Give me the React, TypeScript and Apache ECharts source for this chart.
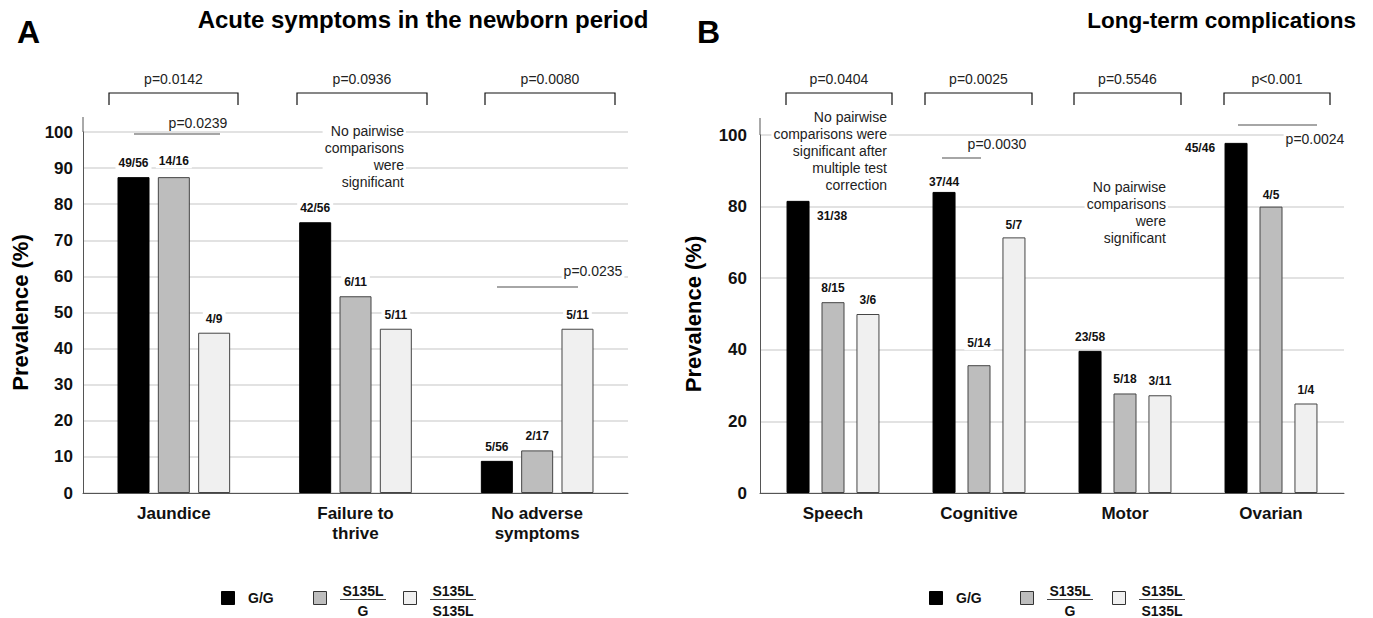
import React, { useEffect, useRef } from 'react';
import * as echarts from 'echarts';

const FONT = '"Liberation Sans", Arial, Helvetica, sans-serif';

// ---------- data ----------
const groupNames = ['G/G', 'S135L/G', 'S135L/S135L'];

const acuteCategories = ['Jaundice', 'Failure to\nthrive', 'No adverse\nsymptoms'];
const acuteGG = [87.5, 75.0, 8.9];
const acuteSG = [87.5, 54.5, 11.8];
const acuteSS = [44.4, 45.5, 45.5];
const acuteGGLabels = ['49/56', '42/56', '5/56'];
const acuteSGLabels = ['14/16', '6/11', '2/17'];
const acuteSSLabels = ['4/9', '5/11', '5/11'];
const acuteOverallP = ['p=0.0142', 'p=0.0936', 'p=0.0080'];

const longCategories = ['Speech', 'Cognitive', 'Motor', 'Ovarian'];
const longGG = [81.6, 84.1, 39.7, 97.8];
const longSG = [53.3, 35.7, 27.8, 80.0];
const longSS = [50.0, 71.4, 27.3, 25.0];
const longGGLabels = ['31/38', '37/44', '23/58', '45/46'];
const longSGLabels = ['8/15', '5/14', '5/18', '4/5'];
const longSSLabels = ['3/6', '5/7', '3/11', '1/4'];
const longOverallP = ['p=0.0404', 'p=0.0025', 'p=0.5546', 'p<0.001'];

const acutePairP = ['p=0.0239', 'p=0.0235'];
const longPairP = ['p=0.0030', 'p=0.0024'];
const noteAcute = 'No pairwise\ncomparisons\nwere\nsignificant';
const noteSpeech = 'No pairwise\ncomparisons were\nsignificant after\nmultiple test\ncorrection';
const noteMotor = 'No pairwise\ncomparisons\nwere\nsignificant';

// ---------- styles ----------
const barColors = ['#000000', '#bdbdbd', '#f0f0f0'];
const barBorders = ['#000000', '#454545', '#454545'];

// label offsets (style only)
const longOffsets: number[][][] = [
  [[34, 29], [0, 4], [0, 0], [-36, 19]],
  [[0, 0], [0, -8], [0, 0], [0, 2]],
  [[0, 0], [0, 2], [0, 0], [0, 0]],
];
const acuteOffsets: number[][][] = [
  [[0, 0], [0, 0], [0, 0]],
  [[0, -2], [0, 0], [0, 0]],
  [[0, 0], [0, 0], [0, 0]],
];

function barSeries(
  idx: number,
  gi: number,
  values: number[],
  labels: string[],
  offsets: number[][],
  barWidth: number,
  barGap: string
) {
  return {
    type: 'bar',
    name: groupNames[gi],
    xAxisIndex: idx,
    yAxisIndex: idx,
    barWidth,
    barGap,
    silent: true,
    data: values.map((v, i) => ({ value: v, label: { offset: offsets[i] } })),
    itemStyle: { color: barColors[gi], borderColor: barBorders[gi], borderWidth: 1 },
    label: {
      show: true,
      position: 'top',
      distance: 7,
      formatter: (p: any) => labels[p.dataIndex],
      fontFamily: FONT,
      fontWeight: 'bold',
      fontSize: 12,
      color: '#111',
      backgroundColor: '#ffffff',
      padding: [1, 3],
    },
  };
}

function txt(text: string, x: number, y: number, opts: any = {}) {
  const style: any = {
    text,
    fill: opts.fill || '#222',
    fontFamily: FONT,
    fontSize: opts.size || 13,
    fontWeight: opts.weight || 'normal',
    textAlign: opts.align || 'center',
    textVerticalAlign: opts.valign || 'middle',
  };
  if (opts.lineHeight) style.lineHeight = opts.lineHeight;
  if (opts.bg) {
    style.backgroundColor = opts.bg;
    style.padding = opts.padding || [0, 2];
  }
  return { type: 'text', x, y, silent: true, z: opts.z || 10, style };
}

function ln(x1: number, y1: number, x2: number, y2: number, stroke = '#888', w = 1.5) {
  return {
    type: 'line',
    silent: true,
    z: 9,
    shape: { x1, y1, x2, y2 },
    style: { stroke, lineWidth: w },
  };
}

function bracket(x1: number, x2: number) {
  return {
    type: 'polyline',
    silent: true,
    shape: { points: [[x1, 105], [x1, 93], [x2, 93], [x2, 105]] },
    style: { stroke: '#111', lineWidth: 1.2, fill: null },
  };
}

function legend(xs: number[]) {
  const els: any[] = [];
  groupNames.forEach((name, gi) => {
    const sx = xs[gi];
    els.push({
      type: 'rect',
      silent: true,
      shape: { x: sx + 0.5, y: 591.5, width: 13, height: 13 },
      style: { fill: barColors[gi], stroke: gi === 0 ? '#000' : '#333', lineWidth: 1 },
    });
    const parts = name.split('/');
    if (gi === 0) {
      els.push(txt(name, sx + 27, 598, { align: 'left', weight: 'bold', size: 14, fill: '#111' }));
    } else {
      const cx = sx + 50;
      els.push(txt(parts[0], cx, 591, { weight: 'bold', size: 14, fill: '#111' }));
      els.push(ln(cx - 23, 599.5, cx + 23, 599.5, '#444', 1));
      els.push(txt(parts[1], cx, 611, { weight: 'bold', size: 14, fill: '#111' }));
    }
  });
  return els;
}

export default function App() {
  const ref = useRef<HTMLDivElement>(null);

  useEffect(() => {
    document.body.style.margin = '0';
    if (!ref.current) return;
    const chart = echarts.init(ref.current, undefined, { renderer: 'svg' });

    const xAxisBase = {
      type: 'category',
      axisTick: { show: false },
      axisLine: { show: true, lineStyle: { color: '#555', width: 1 } },
      axisLabel: {
        fontFamily: FONT,
        fontWeight: 'bold',
        fontSize: 17,
        color: '#111',
        margin: 10,
        lineHeight: 20,
        interval: 0,
      },
    };
    const yAxisBase = {
      type: 'value',
      min: 0,
      max: 100,
      axisLine: { show: true, lineStyle: { color: '#555', width: 1 } },
      axisTick: { show: false },
      splitLine: { show: true, lineStyle: { color: '#e2e2e2', width: 2 } },
      axisLabel: { fontFamily: FONT, fontWeight: 'bold', fontSize: 17, color: '#111' },
    };

    const graphics: any[] = [
      txt('A', 17, 32, { align: 'left', weight: 'bold', size: 32, fill: '#000' }),
      txt('B', 697, 32, { align: 'left', weight: 'bold', size: 32, fill: '#000' }),
      txt('Acute symptoms in the newborn period', 423, 19, { weight: 'bold', size: 24, fill: '#000' }),
      txt('Long-term complications', 1356, 20, { align: 'right', weight: 'bold', size: 22.5, fill: '#000' }),
      // axis line extensions
      ln(83, 117, 83, 132, '#555', 1),
      ln(760, 118, 760, 135, '#555', 1),
    ];
    const acuteBr = [[109, 238], [297, 427], [485, 615]];
    acuteBr.forEach((b, i) => {
      graphics.push(bracket(b[0], b[1]));
      graphics.push(txt(acuteOverallP[i], (b[0] + b[1]) / 2, 79, { size: 14 }));
    });
    const longBr = [[786, 892], [925, 1032], [1074, 1181], [1224, 1330]];
    longBr.forEach((b, i) => {
      graphics.push(bracket(b[0], b[1]));
      graphics.push(txt(longOverallP[i], (b[0] + b[1]) / 2, 79, { size: 14 }));
    });
    // pairwise annotations
    graphics.push(ln(134, 134, 220, 134));
    graphics.push(txt(acutePairP[0], 198, 123, { size: 14, bg: '#fff' }));
    graphics.push(ln(497, 287, 578, 287));
    graphics.push(txt(acutePairP[1], 593, 271, { size: 14, bg: '#fff' }));
    graphics.push(txt(noteAcute, 406, 156, { align: 'right', size: 14, lineHeight: 17, fill: '#222', bg: '#fff' }));

    graphics.push(ln(942, 158, 981, 158));
    graphics.push(txt(longPairP[0], 997, 144, { size: 14, bg: '#fff' }));
    graphics.push(ln(1238, 125, 1317, 125));
    graphics.push(txt(longPairP[1], 1315, 139, { size: 14, bg: '#fff' }));
    graphics.push(txt(noteSpeech, 889, 151, { align: 'right', size: 14, lineHeight: 17, fill: '#222', bg: '#fff' }));
    graphics.push(txt(noteMotor, 1168, 212, { align: 'right', size: 14, lineHeight: 17, fill: '#222', bg: '#fff' }));

    graphics.push(...legend([221, 313, 403]));
    graphics.push(...legend([929, 1020, 1112]));

    const option: any = {
      animation: false,
      backgroundColor: '#ffffff',
      textStyle: { fontFamily: FONT },
      grid: [
        { left: 83, top: 132, width: 545, height: 361 },
        { left: 760, top: 135, width: 584, height: 358 },
      ],
      xAxis: [
        { ...xAxisBase, gridIndex: 0, data: acuteCategories },
        { ...xAxisBase, gridIndex: 1, data: longCategories },
      ],
      yAxis: [
        {
          ...yAxisBase,
          gridIndex: 0,
          interval: 10,
          axisLabel: { ...yAxisBase.axisLabel, margin: 10 },
          name: 'Prevalence (%)',
          nameLocation: 'middle',
          nameGap: 52,
          nameTextStyle: { fontFamily: FONT, fontWeight: 'bold', fontSize: 22, color: '#000' },
        },
        {
          ...yAxisBase,
          gridIndex: 1,
          interval: 20,
          axisLabel: { ...yAxisBase.axisLabel, margin: 13 },
          name: 'Prevalence (%)',
          nameLocation: 'middle',
          nameGap: 56,
          nameTextStyle: { fontFamily: FONT, fontWeight: 'bold', fontSize: 22, color: '#000' },
        },
      ],
      series: [
        barSeries(0, 0, acuteGG, acuteGGLabels, acuteOffsets[0], 32, '26%'),
        barSeries(0, 1, acuteSG, acuteSGLabels, acuteOffsets[1], 32, '26%'),
        barSeries(0, 2, acuteSS, acuteSSLabels, acuteOffsets[2], 32, '26%'),
        barSeries(1, 0, longGG, longGGLabels, longOffsets[0], 23, '52%'),
        barSeries(1, 1, longSG, longSGLabels, longOffsets[1], 23, '52%'),
        barSeries(1, 2, longSS, longSSLabels, longOffsets[2], 23, '52%'),
      ],
      graphic: graphics,
    };
    chart.setOption(option);
    return () => chart.dispose();
  }, []);

  return <div ref={ref} style={{ width: 1373, height: 618 }} />;
}
